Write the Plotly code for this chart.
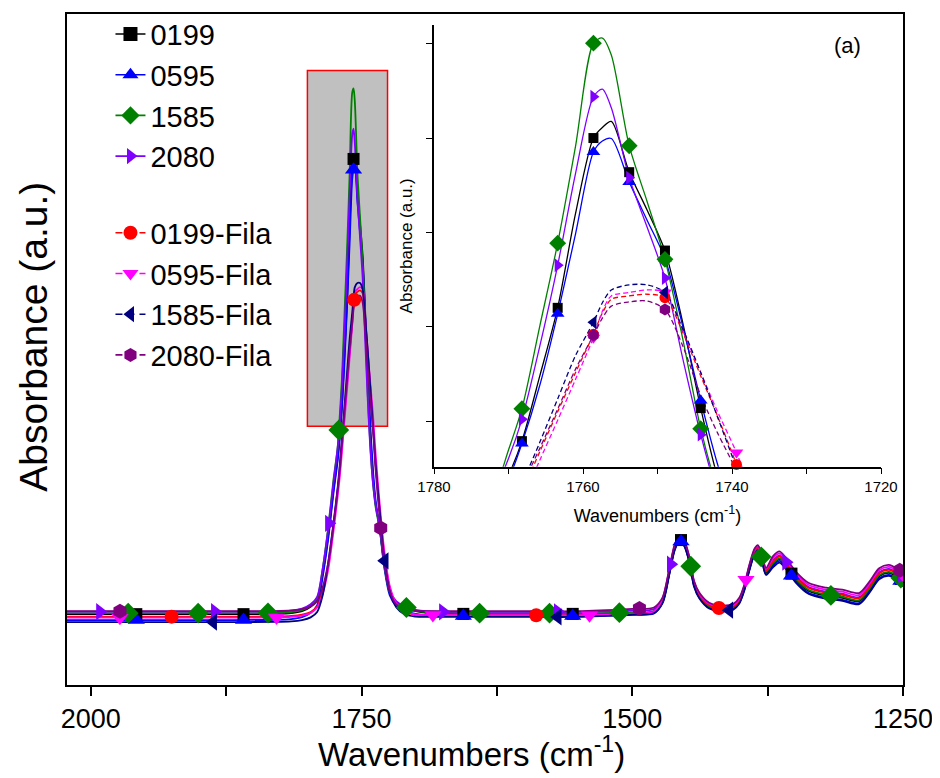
import plotly.graph_objects as go

# ---------------- data ----------------
WAVENUMBER = [2022, 1950, 1880, 1830, 1815, 1805, 1797, 1791, 1786, 1781,
              1776, 1772, 1770, 1768.2, 1765.8, 1763.4, 1761, 1758.6, 1757.4, 1756.2,
              1753.8, 1751.4, 1749.0, 1746.6, 1744.2, 1742, 1739.4, 1737, 1733, 1729,
              1724, 1718, 1710, 1700, 1690, 1650, 1600, 1550, 1500, 1480,
              1472, 1466, 1461, 1456.5, 1452, 1447, 1443, 1438, 1429, 1420,
              1407, 1401, 1396.5, 1392, 1387, 1384, 1380, 1376.5, 1370, 1364,
              1358, 1349, 1337, 1321, 1306, 1290.5, 1281, 1272, 1263, 1254,
              1250]

ABS_0199 = [0.1056, 0.1056, 0.1056, 0.1060, 0.1071, 0.1101, 0.1166, 0.1276, 0.1650, 0.2200,
            0.2900, 0.3400, 0.3750, 0.4154, 0.4920, 0.5720, 0.6830, 0.7715, 0.7840, 0.7910,
            0.7314, 0.6870, 0.6393, 0.5540, 0.4542, 0.3750, 0.3100, 0.2700, 0.2320, 0.1800,
            0.1380, 0.1230, 0.1150, 0.1100, 0.1075, 0.1060, 0.1060, 0.1060, 0.1075, 0.1095,
            0.1245, 0.1655, 0.2025, 0.2175, 0.2095, 0.1835, 0.1495, 0.1315, 0.1165, 0.1125,
            0.1145, 0.1245, 0.1435, 0.1725, 0.1975, 0.2025, 0.1860, 0.1675, 0.1805, 0.1875,
            0.1775, 0.1570, 0.1400, 0.1330, 0.1300, 0.1250, 0.1420, 0.1620, 0.1670, 0.1600,
            0.1560]
ABS_0595 = [0.0968, 0.0968, 0.0968, 0.0972, 0.0983, 0.1013, 0.1078, 0.1188, 0.1600, 0.2150,
            0.2850, 0.3350, 0.3700, 0.4127, 0.4810, 0.5650, 0.6590, 0.7550, 0.7680, 0.7710,
            0.7200, 0.6750, 0.6300, 0.5500, 0.4630, 0.3900, 0.3200, 0.2750, 0.2300, 0.1750,
            0.1340, 0.1180, 0.1100, 0.1060, 0.1040, 0.1030, 0.1030, 0.1030, 0.1045, 0.1065,
            0.1230, 0.1640, 0.2010, 0.2160, 0.2080, 0.1820, 0.1480, 0.1300, 0.1150, 0.1110,
            0.1130, 0.1230, 0.1420, 0.1710, 0.1960, 0.2010, 0.1840, 0.1650, 0.1780, 0.1850,
            0.1750, 0.1540, 0.1370, 0.1300, 0.1270, 0.1220, 0.1390, 0.1590, 0.1640, 0.1570,
            0.1530]
ABS_1585 = [0.1071, 0.1071, 0.1071, 0.1075, 0.1086, 0.1116, 0.1181, 0.1291, 0.1720, 0.2320,
            0.3050, 0.3550, 0.4050, 0.4535, 0.5506, 0.6480, 0.7620, 0.8830, 0.8890, 0.8690,
            0.7625, 0.6970, 0.6290, 0.5350, 0.4300, 0.3600, 0.3000, 0.2650, 0.2300, 0.1780,
            0.1380, 0.1230, 0.1160, 0.1110, 0.1085, 0.1070, 0.1070, 0.1070, 0.1082, 0.1102,
            0.1252, 0.1662, 0.2032, 0.2182, 0.2102, 0.1842, 0.1502, 0.1322, 0.1172, 0.1132,
            0.1152, 0.1252, 0.1442, 0.1732, 0.1982, 0.2032, 0.1867, 0.1687, 0.1817, 0.1887,
            0.1787, 0.1585, 0.1415, 0.1345, 0.1315, 0.1265, 0.1435, 0.1635, 0.1685, 0.1615,
            0.1575]
ABS_2080 = [0.1093, 0.1093, 0.1093, 0.1097, 0.1108, 0.1138, 0.1203, 0.1313, 0.1720, 0.2300,
            0.3000, 0.3550, 0.3950, 0.4410, 0.5270, 0.6220, 0.7300, 0.8200, 0.8290, 0.8070,
            0.7250, 0.6670, 0.6070, 0.5120, 0.4230, 0.3550, 0.3000, 0.2680, 0.2330, 0.1800,
            0.1400, 0.1250, 0.1170, 0.1120, 0.1100, 0.1090, 0.1090, 0.1090, 0.1110, 0.1130,
            0.1280, 0.1690, 0.2060, 0.2210, 0.2130, 0.1870, 0.1530, 0.1350, 0.1200, 0.1160,
            0.1180, 0.1280, 0.1470, 0.1760, 0.2010, 0.2060, 0.1900, 0.1720, 0.1860, 0.1930,
            0.1830, 0.1630, 0.1460, 0.1390, 0.1360, 0.1310, 0.1480, 0.1680, 0.1730, 0.1660,
            0.1620]
ABS_0199_FILA = [0.1019, 0.1019, 0.1019, 0.1021, 0.1029, 0.1049, 0.1089, 0.1169, 0.1400, 0.1750,
                 0.2350, 0.2900, 0.3200, 0.3550, 0.4030, 0.4500, 0.4960, 0.5410, 0.5660, 0.5820,
                 0.5860, 0.5880, 0.5840, 0.5430, 0.4920, 0.4460, 0.3880, 0.3300, 0.2570, 0.1950,
                 0.1450, 0.1200, 0.1090, 0.1050, 0.1045, 0.1040, 0.1040, 0.1040, 0.1060, 0.1090,
                 0.1268, 0.1678, 0.2048, 0.2198, 0.2118, 0.1858, 0.1518, 0.1338, 0.1188, 0.1148,
                 0.1168, 0.1268, 0.1458, 0.1748, 0.1998, 0.2048, 0.1888, 0.1708, 0.1845, 0.1915,
                 0.1815, 0.1615, 0.1445, 0.1375, 0.1345, 0.1295, 0.1465, 0.1665, 0.1715, 0.1645,
                 0.1605]
ABS_0595_FILA = [0.1004, 0.1004, 0.1004, 0.1006, 0.1014, 0.1034, 0.1074, 0.1154, 0.1350, 0.1700,
                 0.2280, 0.2820, 0.3120, 0.3450, 0.3930, 0.4400, 0.4880, 0.5370, 0.5680, 0.5860,
                 0.5900, 0.5930, 0.5900, 0.5450, 0.4960, 0.4510, 0.4020, 0.3450, 0.2650, 0.2000,
                 0.1480, 0.1220, 0.1100, 0.1050, 0.1045, 0.1040, 0.1040, 0.1040, 0.1065, 0.1090,
                 0.1290, 0.1700, 0.2070, 0.2220, 0.2140, 0.1880, 0.1540, 0.1360, 0.1210, 0.1170,
                 0.1190, 0.1290, 0.1480, 0.1770, 0.2020, 0.2070, 0.1910, 0.1730, 0.1890, 0.1960,
                 0.1860, 0.1660, 0.1490, 0.1420, 0.1390, 0.1340, 0.1510, 0.1710, 0.1760, 0.1690,
                 0.1650]
ABS_1585_FILA = [0.0938, 0.0938, 0.0938, 0.0940, 0.0948, 0.0968, 0.1008, 0.1088, 0.1330, 0.1800,
                 0.2400, 0.2950, 0.3300, 0.3650, 0.4140, 0.4650, 0.5160, 0.5550, 0.5780, 0.5930,
                 0.5990, 0.5990, 0.5900, 0.5470, 0.4960, 0.4450, 0.3840, 0.3280, 0.2550, 0.1880,
                 0.1400, 0.1160, 0.1050, 0.1020, 0.1015, 0.1015, 0.1015, 0.1015, 0.1050, 0.1070,
                 0.1220, 0.1630, 0.2000, 0.2150, 0.2070, 0.1810, 0.1470, 0.1290, 0.1140, 0.1100,
                 0.1120, 0.1220, 0.1410, 0.1700, 0.1950, 0.2000, 0.1830, 0.1640, 0.1755, 0.1825,
                 0.1725, 0.1525, 0.1355, 0.1285, 0.1255, 0.1205, 0.1375, 0.1575, 0.1625, 0.1555,
                 0.1515]
ABS_2080_FILA = [0.1100, 0.1100, 0.1100, 0.1102, 0.1110, 0.1130, 0.1170, 0.1250, 0.1450, 0.1800,
                 0.2380, 0.2930, 0.3250, 0.3620, 0.4070, 0.4530, 0.5000, 0.5397, 0.5600, 0.5740,
                 0.5790, 0.5800, 0.5700, 0.5270, 0.4690, 0.4260, 0.3800, 0.3200, 0.2440, 0.1850,
                 0.1400, 0.1200, 0.1130, 0.1105, 0.1100, 0.1100, 0.1100, 0.1100, 0.1135, 0.1155,
                 0.1305, 0.1715, 0.2085, 0.2235, 0.2155, 0.1895, 0.1555, 0.1375, 0.1225, 0.1185,
                 0.1205, 0.1305, 0.1495, 0.1785, 0.2035, 0.2085, 0.1925, 0.1745, 0.1920, 0.1990,
                 0.1890, 0.1690, 0.1520, 0.1450, 0.1420, 0.1370, 0.1540, 0.1740, 0.1790, 0.1720,
                 0.1680]

# marker positions on the main plot
MK_0199_X = [1958, 1859, 1757.4, 1656, 1555, 1455, 1353, 1252]
MK_0199_Y = [0.1056, 0.1056, 0.7840, 0.1060, 0.1060, 0.2160, 0.1660, 0.1580]
MK_0595_X = [1958, 1859, 1757.4, 1656, 1555, 1455, 1353, 1252]
MK_0595_Y = [0.0968, 0.0968, 0.7680, 0.1030, 0.1030, 0.2140, 0.1630, 0.1550]
MK_1585_X = [1965.5, 1900.9, 1836.4, 1771, 1708.6, 1641, 1576.4, 1511.9, 1446, 1381, 1316.6, 1252]
MK_1585_Y = [0.1071, 0.1071, 0.1073, 0.3800, 0.1155, 0.1070, 0.1070, 0.1078, 0.1770, 0.1910, 0.1335, 0.1595]
MK_2080_X = [1991.6, 1885.5, 1780.2, 1674.9, 1568.8, 1464.5, 1358, 1252]
MK_2080_Y = [0.1093, 0.1093, 0.2410, 0.1090, 0.1090, 0.1800, 0.1830, 0.1640]
MK_0199_FILA_X = [1925.4, 1756.8, 1588.7, 1420]
MK_0199_FILA_Y = [0.1019, 0.5740, 0.1040, 0.1148]
MK_0595_FILA_X = [1973.1, 1828.5, 1684.1, 1539.5, 1395, 1250.5]
MK_0595_FILA_Y = [0.1004, 0.1006, 0.1044, 0.1040, 0.1570, 0.1655]
MK_1585_FILA_X = [1887, 1728.6, 1568.8, 1410.4]
MK_1585_FILA_Y = [0.0938, 0.1850, 0.1015, 0.1115]
MK_2080_FILA_X = [1973.1, 1732.3, 1493.4, 1253]
MK_2080_FILA_Y = [0.1100, 0.2340, 0.1140, 0.1710]

# marker positions in the inset
IN_0199_X = [1768.2, 1763.4, 1758.6, 1753.8, 1749.0, 1744.2]
IN_0199_Y = [0.4154, 0.5720, 0.7715, 0.7314, 0.6393, 0.4542]
IN_0595_X = [1768.2, 1763.4, 1758.6, 1753.8, 1749.0, 1744.2]
IN_0595_Y = [0.4127, 0.5650, 0.7550, 0.7200, 0.6300, 0.4630]
IN_1585_X = [1768.2, 1763.4, 1758.6, 1753.8, 1749.0, 1744.2]
IN_1585_Y = [0.4535, 0.6480, 0.8830, 0.7625, 0.6290, 0.4300]
IN_2080_X = [1768.2, 1763.4, 1758.6, 1753.8, 1749.0, 1744.2]
IN_2080_Y = [0.4410, 0.6220, 0.8200, 0.7250, 0.6070, 0.4230]
IN_0199_FILA_X = [1758.6, 1749.0, 1739.4]
IN_0199_FILA_Y = [0.5410, 0.5840, 0.3880]
IN_0595_FILA_X = [1758.6, 1749.0, 1739.4]
IN_0595_FILA_Y = [0.5370, 0.5900, 0.4020]
IN_1585_FILA_X = [1758.6, 1749.0]
IN_1585_FILA_Y = [0.5550, 0.5900]
IN_2080_FILA_X = [1758.6, 1749.0]
IN_2080_FILA_Y = [0.5397, 0.5700]

SERIES_NAMES = ["0199", "0595", "1585", "2080",
                "0199-Fila", "0595-Fila", "1585-Fila", "2080-Fila"]

MAIN_X_TICKS = [2000, 1750, 1500, 1250]
MAIN_X_MINOR = [1875, 1625, 1375]
INSET_X_TICKS = [1780, 1760, 1740, 1720]
INSET_X_MINOR = [1770, 1750, 1730]
INSET_Y_TICKS = [0.439, 0.550, 0.661, 0.771, 0.882]

MAIN_X_RANGE = [2022, 1250]
MAIN_Y_RANGE = [0, 1]
INSET_X_RANGE = [1780, 1720]
INSET_Y_RANGE = [0.3854, 0.9044]
ZOOM_BOX_X = [1800, 1726]
ZOOM_BOX_Y = [0.3855, 0.9158]

# ---------------- styles ----------------
FONT = "Arial, Liberation Sans, sans-serif"
series = [
    # name, y, color, symbol, main size, inset size, dashed, main mk, inset mk, group
    (SERIES_NAMES[0], ABS_0199, "#000000", "square", 12, 10, False, (MK_0199_X, MK_0199_Y), (IN_0199_X, IN_0199_Y), "solid"),
    (SERIES_NAMES[1], ABS_0595, "#0000FF", "triangle-up", 15, 12, False, (MK_0595_X, MK_0595_Y), (IN_0595_X, IN_0595_Y), "solid"),
    (SERIES_NAMES[2], ABS_1585, "#008000", "diamond", 16, 13, False, (MK_1585_X, MK_1585_Y), (IN_1585_X, IN_1585_Y), "solid"),
    (SERIES_NAMES[3], ABS_2080, "#8000FF", "triangle-right", 15, 12, False, (MK_2080_X, MK_2080_Y), (IN_2080_X, IN_2080_Y), "solid"),
    (SERIES_NAMES[4], ABS_0199_FILA, "#FF0000", "circle", 14, 11, True, (MK_0199_FILA_X, MK_0199_FILA_Y), (IN_0199_FILA_X, IN_0199_FILA_Y), "fila"),
    (SERIES_NAMES[5], ABS_0595_FILA, "#FF00FF", "triangle-down", 15, 12, True, (MK_0595_FILA_X, MK_0595_FILA_Y), (IN_0595_FILA_X, IN_0595_FILA_Y), "fila"),
    (SERIES_NAMES[6], ABS_1585_FILA, "#000080", "triangle-left", 15, 12, True, (MK_1585_FILA_X, MK_1585_FILA_Y), (IN_1585_FILA_X, IN_1585_FILA_Y), "fila"),
    (SERIES_NAMES[7], ABS_2080_FILA, "#800080", "hexagon", 15, 12, True, (MK_2080_FILA_X, MK_2080_FILA_Y), (IN_2080_FILA_X, IN_2080_FILA_Y), "fila"),
]

fig = go.Figure()

# main plot lines
for name, y, color, sym, ms, ims, dashed, mk, imk, grp in series:
    fig.add_trace(go.Scatter(x=WAVENUMBER, y=y, mode="lines", showlegend=False,
                             line=dict(color=color, width=1.8, shape="spline", smoothing=0.8),
                             xaxis="x", yaxis="y", hoverinfo="skip"))
# main plot markers
for name, y, color, sym, ms, ims, dashed, mk, imk, grp in series:
    fig.add_trace(go.Scatter(x=mk[0], y=mk[1], mode="markers", showlegend=False,
                             marker=dict(symbol=sym, size=ms, color=color, line=dict(width=0)),
                             xaxis="x", yaxis="y"))
# inset lines
for name, y, color, sym, ms, ims, dashed, mk, imk, grp in series:
    fig.add_trace(go.Scatter(x=WAVENUMBER, y=y, mode="lines", showlegend=False,
                             line=dict(color=color, width=1.3, shape="spline", smoothing=0.8,
                                       dash="5px,3px" if dashed else "solid"),
                             xaxis="x2", yaxis="y2", hoverinfo="skip"))
# inset markers
for name, y, color, sym, ms, ims, dashed, mk, imk, grp in series:
    fig.add_trace(go.Scatter(x=imk[0], y=imk[1], mode="markers", showlegend=False,
                             marker=dict(symbol=sym, size=ims, color=color, line=dict(width=0)),
                             cliponaxis=False, xaxis="x2", yaxis="y2"))
# legend entries
for name, y, color, sym, ms, ims, dashed, mk, imk, grp in series:
    fig.add_trace(go.Scatter(x=[None], y=[None], mode="lines+markers", name=name,
                             legendgroup=grp,
                             line=dict(color=color, width=1.6, dash="7px,5px" if dashed else "solid"),
                             marker=dict(symbol=sym, size=14, color=color),
                             xaxis="x", yaxis="y"))

fig.add_shape(type="rect", xref="x", yref="y",
              x0=ZOOM_BOX_X[0], x1=ZOOM_BOX_X[1], y0=ZOOM_BOX_Y[0], y1=ZOOM_BOX_Y[1],
              fillcolor="#C0C0C0", line=dict(color="#FF0000", width=1.5), layer="below")

fig.add_annotation(text="(a)", xref="paper", yref="paper", x=0.934, y=0.953,
                   xanchor="center", yanchor="middle",
                   showarrow=False, font=dict(family=FONT, size=22, color="black"))
fig.add_annotation(text="Wavenumbers (cm<sup>-1</sup>)", xref="paper", yref="paper",
                   x=0.4844, y=-0.0995, xanchor="center", yanchor="middle",
                   showarrow=False, font=dict(family=FONT, size=33, color="black"))
fig.add_annotation(text="Absorbance (a.u.)", xref="paper", yref="paper",
                   x=-0.0395, y=0.519, xanchor="center", yanchor="middle", textangle=-90,
                   showarrow=False, font=dict(family=FONT, size=39, color="black"))

fig.update_layout(
    width=932, height=770,
    margin=dict(l=59, r=37, t=1, b=93),
    paper_bgcolor="white", plot_bgcolor="white",
    font=dict(family=FONT, color="black"),
    showlegend=True,
    legend=dict(x=0.052, y=1.008, xanchor="left", yanchor="top",
                font=dict(family=FONT, size=29, color="black"),
                bgcolor="rgba(0,0,0,0)", traceorder="grouped",
                tracegroupgap=36, itemsizing="trace"),
    xaxis=dict(domain=[0, 1], range=MAIN_X_RANGE, anchor="y",
               showline=True, linecolor="black", linewidth=2, mirror=True,
               ticks="outside", ticklen=9, tickwidth=2, tickcolor="black",
               tickmode="array", tickvals=MAIN_X_TICKS, ticklabeloverflow="allow",
               minor=dict(tickmode="array", tickvals=MAIN_X_MINOR, ticks="outside",
                          ticklen=9, tickwidth=2, tickcolor="black", showgrid=False),
               tickfont=dict(family=FONT, size=27, color="black"),
               showgrid=False, zeroline=False),
    yaxis=dict(domain=[0, 1], range=MAIN_Y_RANGE, anchor="x",
               showline=True, linecolor="black", linewidth=2, mirror=True,
               ticks="", showticklabels=False, showgrid=False, zeroline=False),
    xaxis2=dict(domain=[0.439, 0.9737], range=INSET_X_RANGE, anchor="y2",
                showline=True, linecolor="black", linewidth=1.5, mirror=False,
                ticks="outside", ticklen=6, tickwidth=1.3, tickcolor="black",
                tickmode="array", tickvals=INSET_X_TICKS,
                minor=dict(tickmode="array", tickvals=INSET_X_MINOR, ticks="outside",
                           ticklen=6, tickwidth=1.3, tickcolor="black", showgrid=False),
                tickfont=dict(family=FONT, size=15, color="black"),
                showgrid=False, zeroline=False,
                title=dict(text="Wavenumbers (cm<sup>-1</sup>)",
                           font=dict(family=FONT, size=18, color="black"), standoff=15)),
    yaxis2=dict(domain=[0.3254, 0.9837], range=INSET_Y_RANGE, anchor="x2",
                showline=True, linecolor="black", linewidth=1.5, mirror=False,
                ticks="outside", ticklen=6, tickwidth=1.3, tickcolor="black",
                tickmode="array", tickvals=INSET_Y_TICKS, showticklabels=False,
                showgrid=False, zeroline=False,
                title=dict(text="Absorbance (a.u.)",
                           font=dict(family=FONT, size=17, color="black"), standoff=9)),
)

fig.write_html("out.html")
